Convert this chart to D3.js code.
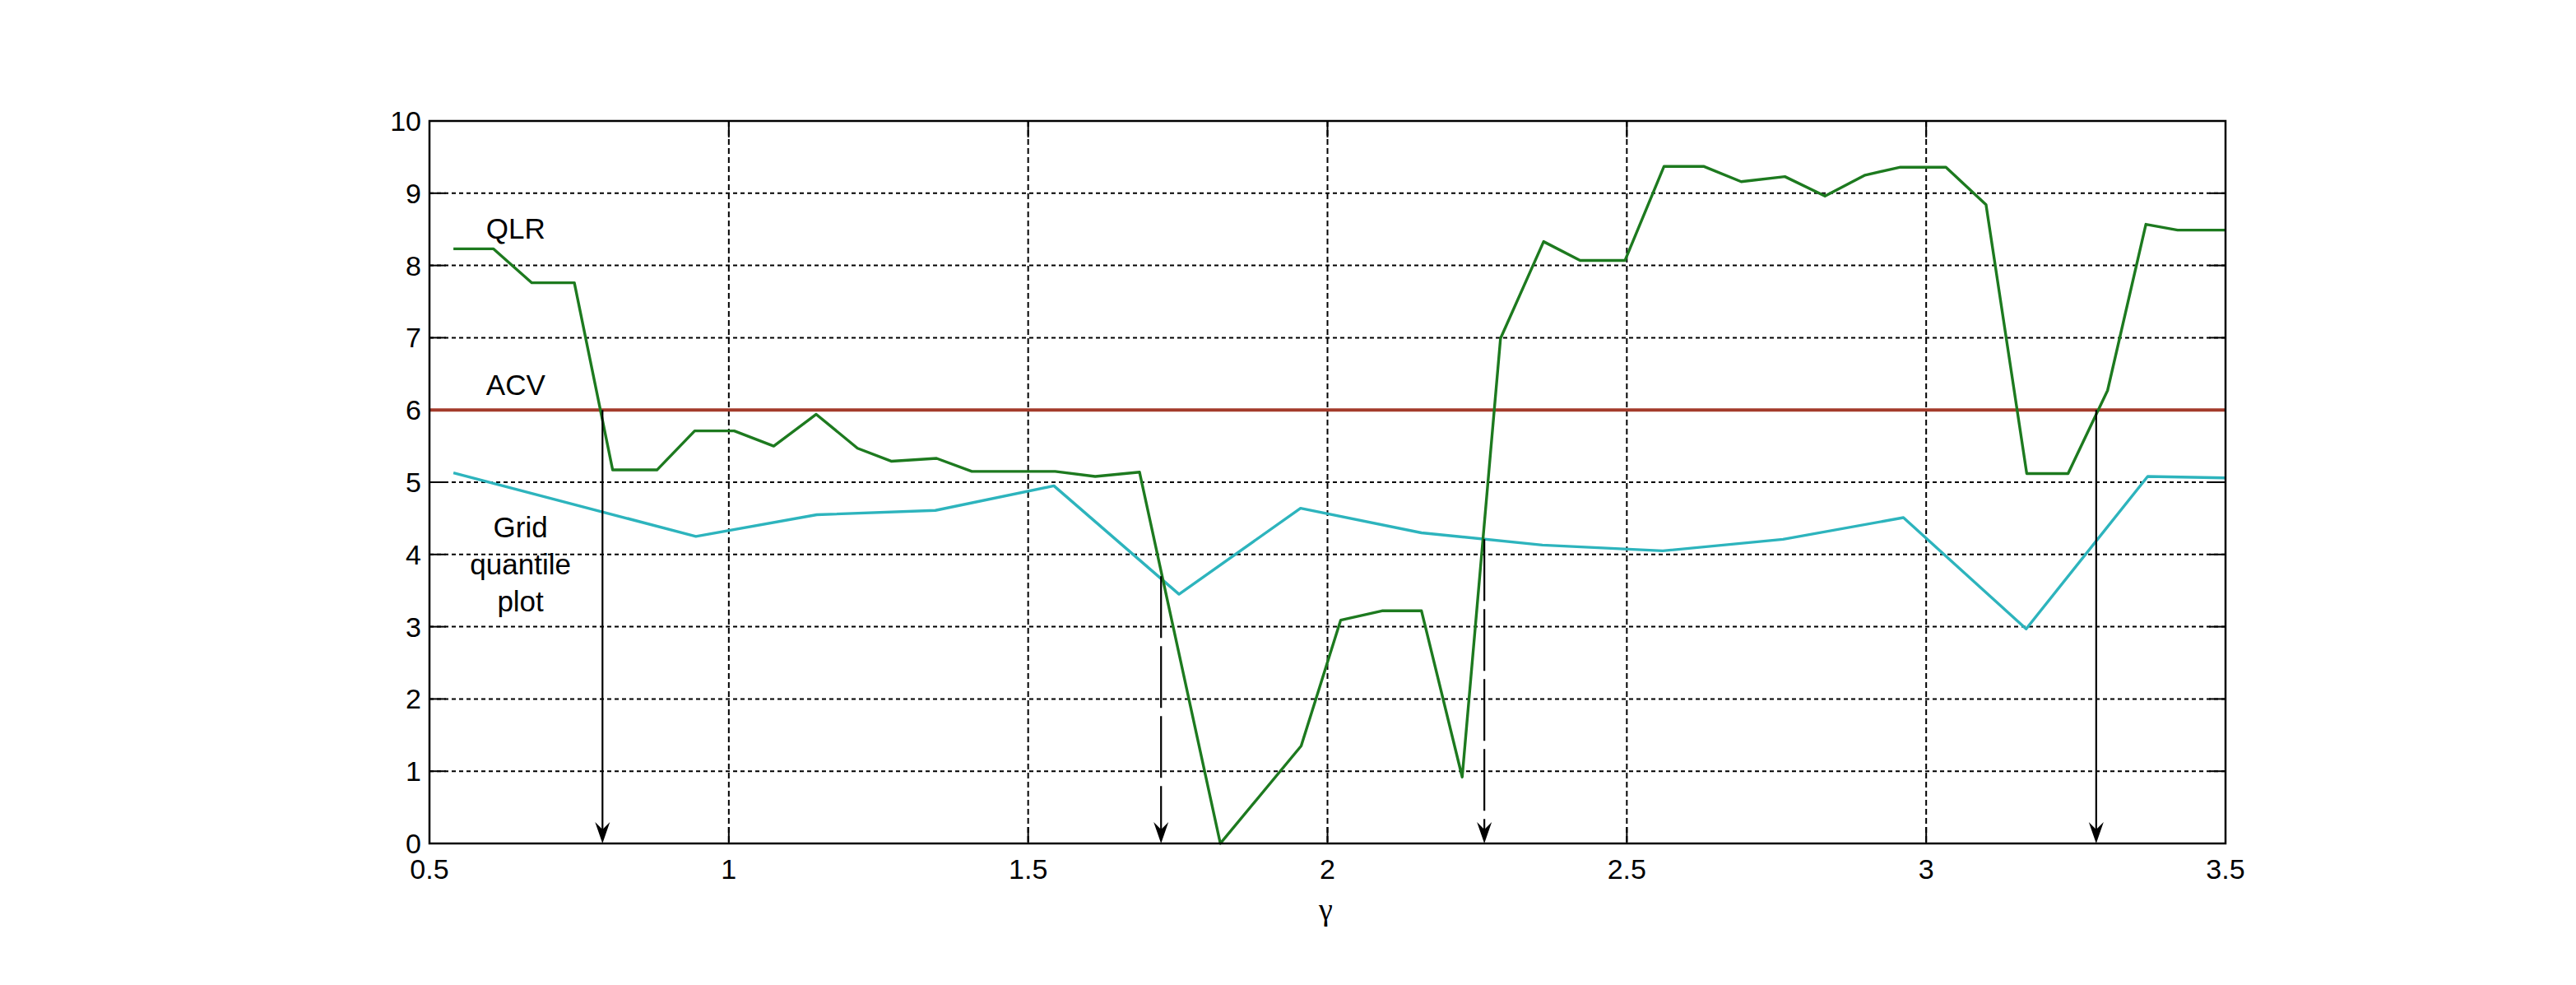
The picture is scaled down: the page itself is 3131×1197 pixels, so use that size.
<!DOCTYPE html>
<html><head><meta charset="utf-8">
<script src="https://cdn.jsdelivr.net/npm/d3@7"></script>
<style>html,body{margin:0;padding:0;background:#fff;}svg{display:block;}</style>
</head><body>
<script>
// ---- data ----
const qlrGamma = [0.540,0.607,0.671,0.742,0.806,0.880,0.943,1.009,1.075,1.146,1.215,1.272,1.347,1.406,1.545,1.612,1.686,1.821,1.956,2.022,2.091,2.157,2.225,2.289,2.361,2.422,2.497,2.562,2.629,2.691,2.764,2.831,2.898,2.957,3.033,3.100,3.168,3.237,3.303,3.367,3.420,3.500];
const qlrValue = [8.23,8.23,7.76,7.76,5.17,5.17,5.71,5.71,5.50,5.94,5.47,5.29,5.33,5.15,5.15,5.08,5.14,0.00,1.35,3.09,3.22,3.22,0.92,6.99,8.33,8.07,8.07,9.37,9.37,9.16,9.23,8.96,9.25,9.36,9.36,8.84,5.12,5.12,6.27,8.57,8.49,8.49];
const gridGamma = [0.540,0.945,1.147,1.345,1.543,1.752,1.955,2.157,2.359,2.560,2.761,2.962,3.167,3.370,3.500];
const gridValue = [5.13,4.25,4.55,4.61,4.95,3.45,4.64,4.30,4.13,4.05,4.21,4.51,2.97,5.08,5.06];
const acvValue = 6;
const xTicks = [0.5,1,1.5,2,2.5,3,3.5];
const xTickLabels = ["0.5","1","1.5","2","2.5","3","3.5"];
const yTicks = [0,1,2,3,4,5,6,7,8,9,10];
const yTickLabels = ["0","1","2","3","4","5","6","7","8","9","10"];
// arrows: gamma position, starting value, dashed?
const arrowGamma = [0.789,1.722,2.262,3.284];
const arrowStart = [6.0,3.70,4.21,6.0];
const arrowDashed = [false,true,true,false];

// ---- layout ----
const W = 3131, H = 1197;
const L = 522, R = 2705, T = 147, B = 1025;
const FONT = "'Liberation Sans', Arial, sans-serif";

const svg = d3.select("body").append("svg").attr("width", W).attr("height", H);
const x = d3.scaleLinear().domain([0.5,3.5]).range([L,R]);
const y = d3.scaleLinear().domain([0,10]).range([B,T]);

// grid
const g = svg.append("g");
g.selectAll(".hg").data(yTicks.filter(v => v>0 && v<10)).enter().append("line")
  .attr("x1", L).attr("x2", R).attr("y1", d=>y(d)).attr("y2", d=>y(d))
  .attr("stroke","#000").attr("stroke-width",2).attr("stroke-dasharray","5,4");
g.selectAll(".vg").data(xTicks.filter(v => v>0.5 && v<3.5)).enter().append("line")
  .attr("y1", T).attr("y2", B).attr("x1", d=>x(d)).attr("x2", d=>x(d))
  .attr("stroke","#000").attr("stroke-width",2).attr("stroke-dasharray","7,4");

// ticks (inward, all four sides)
const TL = 20;
yTicks.forEach(v => {
  g.append("line").attr("x1",L).attr("x2",L+TL).attr("y1",y(v)).attr("y2",y(v)).attr("stroke","#000").attr("stroke-width",2);
  g.append("line").attr("x1",R-TL).attr("x2",R).attr("y1",y(v)).attr("y2",y(v)).attr("stroke","#000").attr("stroke-width",2);
});
xTicks.forEach(v => {
  g.append("line").attr("x1",x(v)).attr("x2",x(v)).attr("y1",B).attr("y2",B-TL).attr("stroke","#000").attr("stroke-width",2);
  g.append("line").attr("x1",x(v)).attr("x2",x(v)).attr("y1",T).attr("y2",T+TL).attr("stroke","#000").attr("stroke-width",2);
});

// tick labels
svg.selectAll(".yl").data(yTicks).enter().append("text")
  .attr("x", L-10).attr("y", d=>y(d)+12).attr("text-anchor","end")
  .attr("font-family",FONT).attr("font-size",34).attr("fill","#000")
  .text((d,i)=>yTickLabels[i]);
svg.selectAll(".xl").data(xTicks).enter().append("text")
  .attr("x", d=>x(d)).attr("y", B+43).attr("text-anchor","middle")
  .attr("font-family",FONT).attr("font-size",34).attr("fill","#000")
  .text((d,i)=>xTickLabels[i]);

// x-axis label
svg.append("text").attr("x", x(2)-2).attr("y", 1118).attr("text-anchor","middle")
  .attr("font-family","'Liberation Serif', 'DejaVu Serif', serif").attr("font-size",38).attr("fill","#000")
  .text("γ");

// ACV line
svg.append("line").attr("x1",L).attr("x2",R).attr("y1",y(acvValue)).attr("y2",y(acvValue))
  .attr("stroke","#a33b2b").attr("stroke-width",4);

// series
const line = d3.line().x(d=>x(d[0])).y(d=>y(d[1]));
svg.append("path").datum(gridGamma.map((g,i)=>[g,gridValue[i]]))
  .attr("d", line).attr("fill","none").attr("stroke","#2db4bd").attr("stroke-width",3.4).attr("stroke-linejoin","round");
svg.append("path").datum(qlrGamma.map((g,i)=>[g,qlrValue[i]]))
  .attr("d", line).attr("fill","none").attr("stroke","#1d7a1f").attr("stroke-width",3.4).attr("stroke-linejoin","round");

// arrows
arrowGamma.forEach((ga,i) => {
  const ax = x(ga), y0 = y(arrowStart[i]), y1 = B;
  svg.append("line").attr("x1",ax).attr("x2",ax).attr("y1",y0).attr("y2",y1-14)
    .attr("stroke","#000").attr("stroke-width",2.2)
    .attr("stroke-dasharray", arrowDashed[i] ? "75,10" : null);
  svg.append("path")
    .attr("d", `M${ax},${y1} L${ax-9},${y1-26} L${ax},${y1-17} L${ax+9},${y1-26} Z`)
    .attr("fill","#000");
});

// frame
svg.append("rect").attr("x",L).attr("y",T).attr("width",R-L).attr("height",B-T)
  .attr("fill","none").attr("stroke","#000").attr("stroke-width",2.5);

// annotations
const ann = svg.append("g").attr("font-family",FONT).attr("font-size",35).attr("fill","#000").attr("text-anchor","middle");
ann.append("text").attr("x", x(0.644)).attr("y", 290).text("QLR");
ann.append("text").attr("x", x(0.644)).attr("y", 480).text("ACV");
ann.append("text").attr("x", x(0.652)).attr("y", 653).text("Grid");
ann.append("text").attr("x", x(0.652)).attr("y", 698).text("quantile");
ann.append("text").attr("x", x(0.652)).attr("y", 743).text("plot");
</script>
</body></html>
